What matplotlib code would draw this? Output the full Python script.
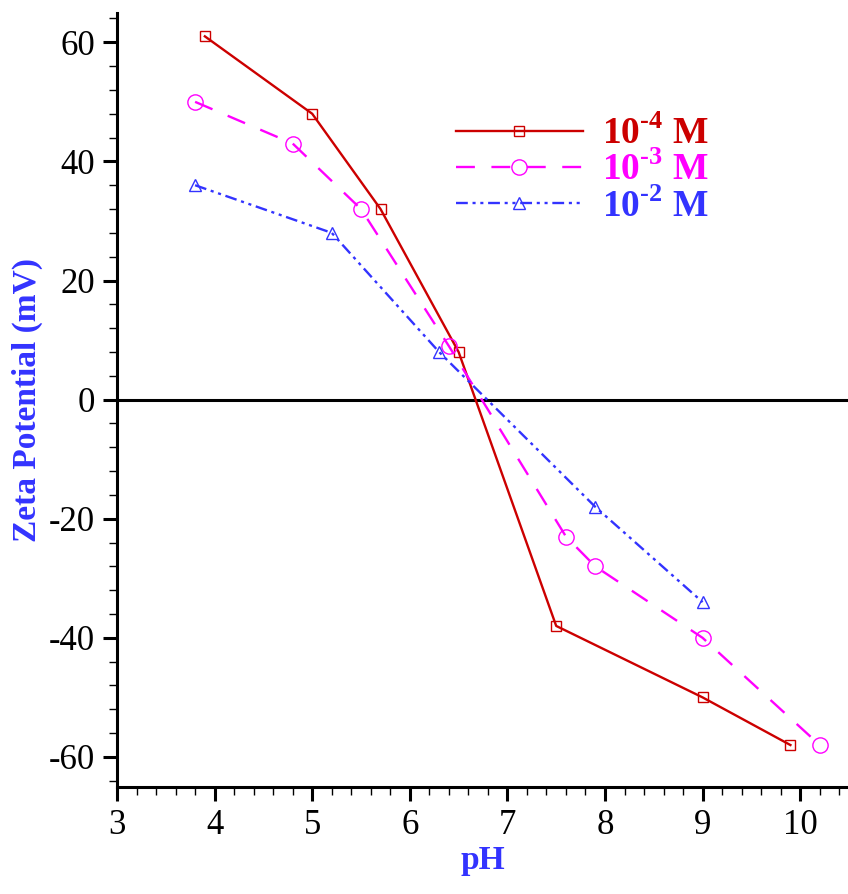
import matplotlib
matplotlib.use('Agg')
import matplotlib.pyplot as plt
from matplotlib.ticker import MultipleLocator

# data
ph_4 = [3.9, 5.0, 5.7, 6.5, 7.5, 9.0, 9.9]
zeta_4 = [61, 48, 32, 8, -38, -50, -58]

ph_3 = [3.8, 4.8, 5.5, 6.4, 7.6, 7.9, 9.0, 10.2]
zeta_3 = [50, 43, 32, 9, -23, -28, -40, -58]

ph_2 = [3.8, 5.2, 6.3, 7.9, 9.0]
zeta_2 = [36, 28, 8, -18, -34]

labels = [r'10$^{\text{-4}}$ M', r'10$^{\text{-3}}$ M', r'10$^{\text{-2}}$ M']

plt.rcParams['font.family'] = ['Liberation Serif', 'DejaVu Serif']
plt.rcParams['mathtext.fontset'] = 'custom'
plt.rcParams['mathtext.rm'] = 'Liberation Serif:bold'
plt.rcParams['mathtext.bf'] = 'Liberation Serif:bold'
plt.rcParams['axes.unicode_minus'] = False

fig = plt.figure(figsize=(8.48, 8.94), dpi=100)
ax = fig.add_axes([0.138, 0.12, 0.862, 0.866])

ax.axhline(0, color='black', lw=2.2, zorder=1)

ax.plot(ph_4, zeta_4, color='#cc0000', lw=1.7, marker='s', ms=7.5,
        mfc='none', mec='#cc0000', mew=1.0, label=labels[0])
ax.plot(ph_3, zeta_3, color='#ff00ff', lw=1.7, ls=(0, (8, 7)), marker='o', ms=11,
        mfc='none', mec='#ff00ff', mew=1.0, label=labels[1])
ax.plot(ph_2, zeta_2, color='#3333ff', lw=1.7, ls=(0, (5, 2, 1.3, 2, 1.3, 2)), marker='^', ms=8,
        mfc='none', mec='#3333ff', mew=1.0, label=labels[2])

ax.set_xlim(3, 10.49)
ax.set_ylim(-65, 65)
ax.xaxis.set_major_locator(MultipleLocator(1))
ax.xaxis.set_minor_locator(MultipleLocator(0.2))
ax.yaxis.set_major_locator(MultipleLocator(20))
ax.yaxis.set_minor_locator(MultipleLocator(4))

for s in ['top', 'right']:
    ax.spines[s].set_visible(False)
for s in ['left', 'bottom']:
    ax.spines[s].set_linewidth(2.2)

ax.tick_params(which='major', direction='out', length=10, width=2.2, labelsize=25, pad=6)
ax.tick_params(which='minor', direction='out', length=6, width=1.0)

ax.set_xlabel('pH', fontsize=24, fontweight='bold', color='#3333ff', labelpad=2)
ax.set_ylabel('Zeta Potential (mV)', fontsize=24, fontweight='bold', color='#3333ff', labelpad=4)

leg = ax.legend(loc='upper left', bbox_to_anchor=(0.417, 0.91), frameon=False,
                handlelength=3.4, labelcolor='linecolor',
                prop={'weight': 'bold', 'size': 27, 'family': 'Liberation Serif'},
                labelspacing=0.0, handletextpad=0.5)

fig.savefig('out.png', dpi=100)
